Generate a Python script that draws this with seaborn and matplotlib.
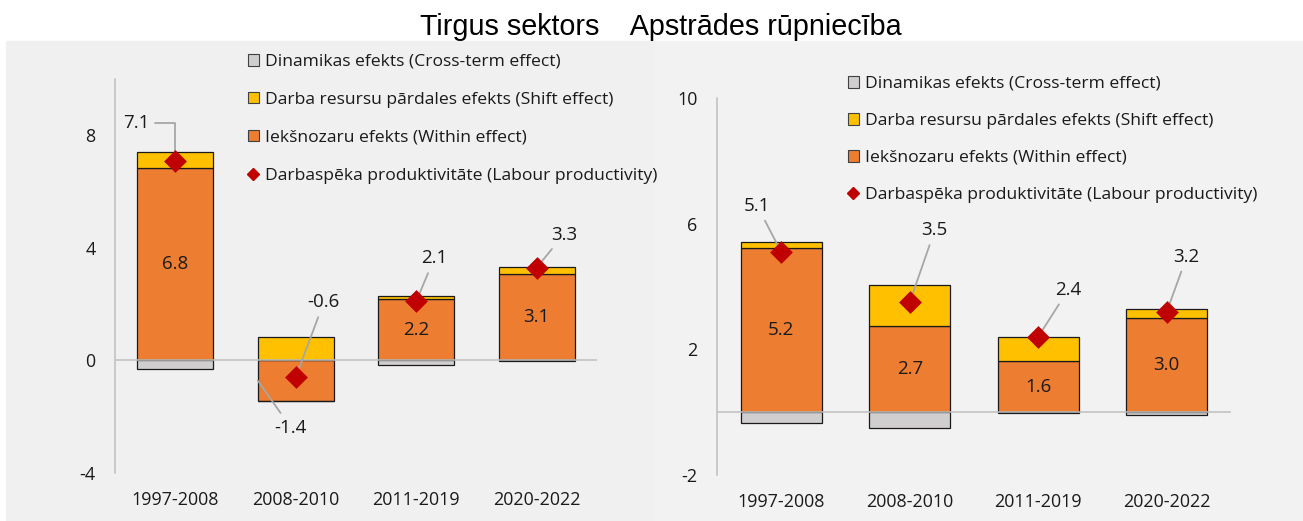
import numpy as np
import seaborn as sns
import matplotlib.pyplot as plt
from matplotlib.patches import Patch, Rectangle
from matplotlib.lines import Line2D

# Data
periods = ['1997-2008', '2008-2010', '2011-2019', '2020-2022']

# Tirgus sektors
market_within = [6.82, -1.43, 2.18, 3.06]
market_shift = [0.60, 0.82, 0.10, 0.27]
market_cross = [-0.32, -0.02, -0.16, -0.02]
market_lp = [7.1, -0.6, 2.1, 3.3]

# Apstrādes rūpniecība
manuf_within = [5.22, 2.74, 1.63, 3.00]
manuf_shift = [0.20, 1.30, 0.76, 0.28]
manuf_cross = [-0.35, -0.51, -0.03, -0.10]
manuf_lp = [5.1, 3.5, 2.4, 3.2]

labels = ['Iekšnozaru efekts (Within effect)',
          'Darba resursu pārdales efekts (Shift effect)',
          'Dinamikas efekts (Cross-term effect)',
          'Darbaspēka produktivitāte (Labour productivity)']
colors = ['#ED7D31', '#FFC000', '#D0CECE']
lp_color = '#C00000'
leader = '#A6A6A6'

W, H = 1303, 521
FS = 12.6       # legend
FS_TICK = 12.9
FS_LAB = 13.5   # data labels

sns.set_theme(style='white')
plt.rcParams['font.family'] = ['Open Sans', 'DejaVu Sans']
plt.rcParams['text.color'] = '#1a1a1a'

fig = plt.figure(figsize=(W / 100, H / 100), dpi=100)
fig.patches.append(Rectangle((6 / W, 0), (655 - 6) / W, (H - 41) / H,
                             transform=fig.transFigure, color='#F0F0F0', zorder=-10))
fig.patches.append(Rectangle((655 / W, 0), (W - 655) / W, (H - 41) / H,
                             transform=fig.transFigure, color='#F2F2F2', zorder=-10))


def stack_bottoms(series_list):
    """Excel-style stacking: positives upward from 0, negatives downward."""
    n = len(series_list[0])
    pos = np.zeros(n)
    neg = np.zeros(n)
    out = []
    for s in series_list:
        s = np.asarray(s, dtype=float)
        b = np.where(s >= 0, pos, neg)
        pos = np.where(s >= 0, pos + s, pos)
        neg = np.where(s < 0, neg + s, neg)
        out.append(b)
    return out


def draw_panel(ax, within, shift, cross, lp, ylim, yticks, lp_offsets, within_out):
    series = [within, shift, cross]
    bottoms = stack_bottoms(series)
    bw = 0.63
    for vals, bots, col in zip(series, bottoms, colors):
        sns.barplot(x=periods, y=vals, bottom=bots, color=col, saturation=1,
                    edgecolor='#1a1a1a', linewidth=0.9, width=bw, errorbar=None,
                    ax=ax, zorder=2)
    ax.axhline(0, color='#BFBFBF', lw=1.1, zorder=3)
    sns.scatterplot(x=periods, y=lp, marker='D', s=135, color=lp_color,
                    linewidth=0, zorder=5, ax=ax, legend=False)

    for i, v in enumerate(within):
        if within_out[i] is None:
            ax.text(i, v / 2, f'{v:.1f}', ha='center', va='center', fontsize=FS_LAB, zorder=6)
        else:
            ax.annotate(f'{v:.1f}', xy=(i - bw / 2, v / 2), xytext=within_out[i],
                        textcoords='offset pixels', ha='center', va='center', fontsize=FS_LAB,
                        arrowprops=dict(arrowstyle='-', color=leader, lw=1.3,
                                        shrinkA=2, shrinkB=0), zorder=6)

    for i, (v, off) in enumerate(zip(lp, lp_offsets)):
        conn = 'arc3'
        if off[2]:
            conn = 'angle,angleA=0,angleB=90,rad=0'
        ax.annotate(f'{v:.1f}', xy=(i, v), xytext=(off[0], off[1]),
                    textcoords='offset pixels', ha='center', va='center', fontsize=FS_LAB,
                    arrowprops=dict(arrowstyle='-', color=leader, lw=1.3,
                                    shrinkA=2, shrinkB=0, connectionstyle=conn),
                    zorder=4)

    ax.set_facecolor('none')
    ax.set_xlim(-0.5, 3.5)
    ax.set_ylim(*ylim)
    ax.set_yticks(yticks)
    ax.set_yticklabels([f'{t:g}' for t in yticks])
    ax.set_xlabel('')
    ax.set_ylabel('')
    for side in ['top', 'right', 'bottom']:
        ax.spines[side].set_visible(False)
    ax.spines['left'].set_color('#BFBFBF')
    ax.spines['left'].set_linewidth(1.1)
    ax.tick_params(axis='y', length=0, pad=14, labelsize=FS_TICK, labelcolor='#1a1a1a')
    ax.tick_params(axis='x', length=0, pad=13, labelsize=FS_TICK, labelcolor='#1a1a1a')
    ax.grid(False)


ax1 = fig.add_axes([115 / W, 1 - 473 / H, 482 / W, 394 / H])
draw_panel(ax1, market_within, market_shift, market_cross, market_lp,
           ylim=(-4, 10), yticks=[-4, 0, 4, 8],
           lp_offsets=[(-39, 38, True), (28, 75, False), (18, 43, False), (27, 33, False)],
           within_out=[None, (33, -47), None, None])

ax2 = fig.add_axes([717 / W, 1 - 475 / H, 514 / W, 377 / H])
draw_panel(ax2, manuf_within, manuf_shift, manuf_cross, manuf_lp,
           ylim=(-2, 10), yticks=[-2, 2, 6, 10],
           lp_offsets=[(-24, 46, False), (25, 72, False), (30, 47, False), (20, 55, False)],
           within_out=[None, None, None, None])

handles = [Patch(facecolor=colors[2], edgecolor='#404040', lw=0.8),
           Patch(facecolor=colors[1], edgecolor='#404040', lw=0.8),
           Patch(facecolor=colors[0], edgecolor='#404040', lw=0.8),
           Line2D([], [], marker='D', color=lp_color, linestyle='none', markersize=6.5)]
leg_labels = [labels[2], labels[1], labels[0], labels[3]]

for ax, x0, y0, sp in [(ax1, 247.5, 54, 1.25), (ax2, 847.5, 76, 1.2)]:
    ax.legend(handles, leg_labels, loc='upper left',
              bbox_to_anchor=(x0 / W, 1 - y0 / H), bbox_transform=fig.transFigure,
              frameon=False, borderpad=0, borderaxespad=0, fontsize=FS,
              handlelength=0.63, handleheight=0.63, handletextpad=0.35,
              labelspacing=sp)

fig.text(661 / W, 1 - 35 / H, 'Tirgus sektors    Apstrādes rūpniecība',
         ha='center', va='baseline', fontsize=20.7, family=['Liberation Sans', 'DejaVu Sans'],
         color='#000000')

fig.savefig('out.png', dpi=100)
plt.close(fig)
